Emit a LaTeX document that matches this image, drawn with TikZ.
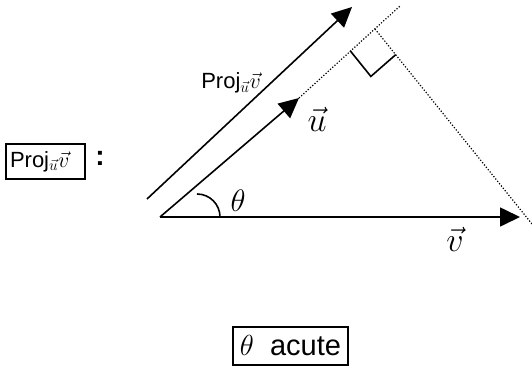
\documentclass[tikz,border=0pt]{standalone}
\usepackage{fix-cm}
\usepackage{fontspec}
\setmainfont{Liberation Sans}
\usepackage{tikz}
\usetikzlibrary{arrows.meta,calc}

\tikzset{
  vecline/.style={line width=1.6pt,-{Triangle[length=20pt,width=19pt]}},
  guide/.style={line width=1.2pt,dash pattern=on 1.2pt off 1.8pt},
  tagbox/.style={draw,line width=1.6pt}
}

\begin{document}
\begin{tikzpicture}[x=1pt,y=-1pt,font=\fontsize{22}{26}\selectfont]
\useasboundingbox (0,0) rectangle (532,369);
% points of the figure
\coordinate (O) at (160,217);
\coordinate (V) at (520,217);
\coordinate (U) at (299,98);
\coordinate (T) at (400,6);
\coordinate (F) at (375,29);
\coordinate (P) at (532,224);
\coordinate (S) at (147,199);
\coordinate (E) at (352,7);
% vectors
\draw[vecline] (O) -- (V);
\draw[vecline] (O) -- (U);
\draw[vecline] (S) -- (E);
\draw[guide] (U) -- (T);
\draw[guide] (F) -- (P);
% right angle
\coordinate (A) at ($(F)!33pt!(O)$);
\coordinate (B) at ($(F)!33pt!(P)$);
\draw[line width=1.6pt] (A) -- ($(A)+(B)-(F)$) -- (B);
% angle
\draw[line width=1.6pt] (197,194) arc[start angle=-90,end angle=0,radius=23];
% labels
\node (theta) at (238,201) {\fontsize{31}{34}\selectfont$\theta$};
\node (vlab) at (455,239) {\fontsize{34}{38}\selectfont$\vec{v}$};
\node (ulab) at (317,119) {\fontsize{34}{38}\selectfont$\vec{u}$};
\node (proj) at (231,83) {Proj$_{\vec{u}}\vec{v}$};
\node[tagbox,text width=71pt,inner sep=4pt,minimum height=35pt,align=left] (tag) at (45.5,161.5) {Proj$_{\vec{u}}\vec{v}$};
\node[font=\fontsize{28}{32}\selectfont\bfseries] (colon) at (100,158) {:};
\node[tagbox,minimum width=115pt,minimum height=38pt,inner sep=2pt,font=\fontsize{29}{33}\selectfont] (case) at (290.5,346) {$\theta$\ \ acute};
\end{tikzpicture}
\end{document}
